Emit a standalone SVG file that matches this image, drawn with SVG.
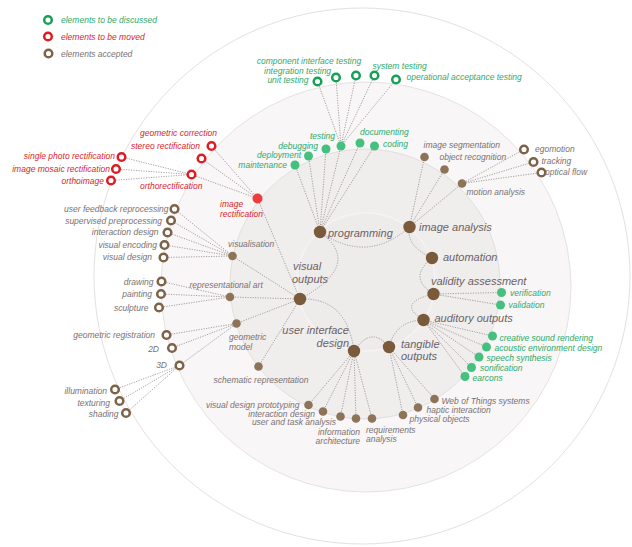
<svg xmlns="http://www.w3.org/2000/svg" width="632" height="547" viewBox="0 0 632 547">
<style>
text{font-family:"Liberation Sans",Arial,sans-serif;font-style:italic;font-size:8.5px;fill:#7a7172}
.e{text-anchor:end}
.tg{fill:#2eaa6b}
.tr{fill:#d8252d}
.tm{font-size:11px;fill:#6c6264}
.c{fill:none;stroke:#9d9595;stroke-width:0.9;stroke-dasharray:1.2 1.3}
.m{fill:#7a5a3a}
.s{fill:#8d7459}
.g{fill:#46c07f}
.rg{fill:#fff;stroke:#16a055;stroke-width:2.5}
.rr{fill:#fff;stroke:#e11b22;stroke-width:2.5}
.rb{fill:#fff;stroke:#7d6248;stroke-width:2.5}
</style>
<rect width="632" height="547" fill="#fff"/>
<g id="background">
<circle cx="362" cy="276" r="268" fill="#fff" stroke="#e4e0e0" stroke-width="1"/>
<circle cx="366" cy="287" r="205" fill="#f8f6f6" stroke="#e6e2e2" stroke-width="1"/>
<circle cx="365" cy="284" r="135" fill="#f0eded" stroke="#e3dfdf" stroke-width="1"/>
<circle cx="366" cy="282" r="69" fill="#eeebeb" stroke="#f5f3f3" stroke-width="1.5"/>
</g>
<g id="legend">
<circle class="rg" cx="48" cy="20" r="3.8"/><text class="tg" x="61" y="23">elements to be discussed</text>
<circle class="rr" cx="48" cy="36.5" r="3.8"/><text class="tr" x="61" y="39.5">elements to be moved</text>
<circle class="rb" cx="48.5" cy="53.5" r="3.8"/><text x="61" y="56.5">elements accepted</text>
</g>
<g id="connectors">
<path class="c" d="M317.5 81.5L341 146M336 77.5L341 146M356 75.5L341 146M374.5 75.5L341 146M396 79.5L341 146"/>
<path class="c" d="M295 165L320 232M308.5 156L320 232M326 149L320 232M341 146L320 232M360 143L320 232M374.5 146L320 232"/>
<path class="c" d="M424.5 157L409.5 227M444.5 169.5L409.5 227M462 183.5L409.5 227"/>
<path class="c" d="M524 149.5L462 183.5M533.5 162L462 183.5M541.5 172.5L462 183.5"/>
<path class="c" d="M501.5 292.5L433.5 294M500.5 305L433.5 294"/>
<path class="c" d="M492.5 336L423.5 320M486.5 347L423.5 320M479 357L423.5 320M471.5 367.5L423.5 320M465 376.5L423.5 320"/>
<path class="c" d="M403 415L389 347M418 407.5L389 347M434.5 399L389 347"/>
<path class="c" d="M308.5 405L354 351M323 411.5L354 351M340.5 416.5L354 351M356 418.5L354 351M372 418.5L354 351"/>
<path class="c" d="M257.5 198.5L300 299M232.5 256L300 299M230 297L300 299M236.5 323.5L300 299M258.5 366.5L300 299"/>
<path class="c" d="M191.5 174.5L257.5 198.5M201.5 158.5L257.5 198.5M211.5 146L257.5 198.5"/>
<path class="c" d="M121.5 157L191.5 174.5M116 169L191.5 174.5M111 180.5L191.5 174.5"/>
<path class="c" d="M174.5 209L232.5 256M171 220.5L232.5 256M167.5 232.5L232.5 256M164.5 245L232.5 256M163.5 257.5L232.5 256"/>
<path class="c" d="M161.5 281.5L230 297M161 294L230 297M159 307.5L230 297"/>
<path class="c" d="M166.5 335L236.5 323.5M172 348L236.5 323.5M179.5 365.5L236.5 323.5"/>
<path class="c" d="M115 389.5L179.5 365.5M119.5 401L179.5 365.5M126 413L179.5 365.5"/>
<path class="c" d="M320 232Q367.25 264.5 409.5 227"/>
<path class="c" d="M409.5 227Q405.25 245.5 432 258"/>
<path class="c" d="M432 258Q407.25 278 433.5 294"/>
<path class="c" d="M433.5 294Q395.5 303 423.5 320"/>
<path class="c" d="M423.5 320Q395.75 320.5 389 347"/>
<path class="c" d="M389 347Q371.5 325 354 351"/>
<path class="c" d="M354 351Q347 297 300 299"/>
<path class="c" d="M300 299Q364 264.5 320 232"/>
</g>
<g id="n-unit-testing"><circle class="rg" cx="317.5" cy="81.5" r="3.8"/><text class="tg e" x="308.5" y="83">unit testing</text></g>
<g id="n-integration-testing"><circle class="rg" cx="336" cy="77.5" r="3.8"/><text class="tg" x="264" y="73.5">integration testing</text></g>
<g id="n-component-interface-testing"><circle class="rg" cx="356" cy="75.5" r="3.8"/><text class="tg" x="256.7" y="63.5">component interface testing</text></g>
<g id="n-system-testing"><circle class="rg" cx="374.5" cy="75.5" r="3.8"/><text class="tg" x="372.5" y="68.5">system testing</text></g>
<g id="n-operational-acceptance-testing"><circle class="rg" cx="396" cy="79.5" r="3.8"/><text class="tg" x="406.5" y="79.5">operational acceptance testing</text></g>
<g id="n-maintenance"><circle class="g" cx="295" cy="165" r="4.5"/><text class="tg e" x="287" y="167.5">maintenance</text></g>
<g id="n-deployment"><circle class="g" cx="308.5" cy="156" r="4.5"/><text class="tg e" x="301" y="157.5">deployment</text></g>
<g id="n-debugging"><circle class="g" cx="326" cy="149" r="4.5"/><text class="tg e" x="318" y="148.5">debugging</text></g>
<g id="n-testing"><circle class="g" cx="341" cy="146" r="4.5"/><text class="tg e" x="335" y="139">testing</text></g>
<g id="n-documenting"><circle class="g" cx="360" cy="143" r="4.5"/><text class="tg" x="360" y="135">documenting</text></g>
<g id="n-coding"><circle class="g" cx="374.5" cy="146" r="4.5"/><text class="tg" x="383" y="146.5">coding</text></g>
<g id="n-image-rectification"><circle cx="257.5" cy="198.5" r="5" fill="#ee3b3b"/><text class="tr" x="220" y="206.5">image</text><text class="tr" x="220" y="216.5">rectification</text></g>
<g id="n-geometric-correction"><circle class="rr" cx="211.5" cy="146" r="3.8"/><text class="tr" x="140" y="136">geometric correction</text></g>
<g id="n-stereo-rectification"><circle class="rr" cx="201.5" cy="158.5" r="3.8"/><text class="tr" x="131" y="149">stereo rectification</text></g>
<g id="n-orthorectification"><circle class="rr" cx="191.5" cy="174.5" r="3.8"/><text class="tr" x="140" y="189">orthorectification</text></g>
<g id="n-single-photo-rectification"><circle class="rr" cx="121.5" cy="157" r="3.8"/><text class="tr e" x="115" y="159">single photo rectification</text></g>
<g id="n-image-mosaic-rectification"><circle class="rr" cx="116" cy="169" r="3.8"/><text class="tr e" x="110" y="171.5">image mosaic rectification</text></g>
<g id="n-orthoimage"><circle class="rr" cx="111" cy="180.5" r="3.8"/><text class="tr e" x="104" y="183.5">orthoimage</text></g>
<g id="n-visualisation"><circle class="s" cx="232.5" cy="256" r="4.3"/><text x="228" y="246.5">visualisation</text></g>
<g id="n-user-feedback-reprocessing"><circle class="rb" cx="174.5" cy="209" r="3.8"/><text class="e" x="168.5" y="212">user feedback reprocessing</text></g>
<g id="n-supervised-preprocessing"><circle class="rb" cx="171" cy="220.5" r="3.8"/><text class="e" x="162" y="223.7">supervised preprocessing</text></g>
<g id="n-interaction-design-l"><circle class="rb" cx="167.5" cy="232.5" r="3.8"/><text class="e" x="158.5" y="234.5">interaction design</text></g>
<g id="n-visual-encoding"><circle class="rb" cx="164.5" cy="245" r="3.8"/><text class="e" x="157" y="248">visual encoding</text></g>
<g id="n-visual-design"><circle class="rb" cx="163.5" cy="257.5" r="3.8"/><text class="e" x="152" y="260">visual design</text></g>
<g id="n-representational-art"><circle class="s" cx="230" cy="297" r="4.3"/><text x="189.5" y="287.5">representational art</text></g>
<g id="n-drawing"><circle class="rb" cx="161.5" cy="281.5" r="3.8"/><text class="e" x="153.5" y="285">drawing</text></g>
<g id="n-painting"><circle class="rb" cx="161" cy="294" r="3.8"/><text class="e" x="152" y="297">painting</text></g>
<g id="n-sculpture"><circle class="rb" cx="159" cy="307.5" r="3.8"/><text class="e" x="148.5" y="310.5">sculpture</text></g>
<g id="n-geometric-model"><circle class="s" cx="236.5" cy="323.5" r="4.3"/><text x="229" y="340">geometric</text><text x="229" y="350">model</text></g>
<g id="n-geometric-registration"><circle class="rb" cx="166.5" cy="335" r="3.8"/><text class="e" x="155" y="338">geometric registration</text></g>
<g id="n-2d"><circle class="rb" cx="172" cy="348" r="3.8"/><text class="e" x="159" y="351.5">2D</text></g>
<g id="n-3d"><circle class="rb" cx="179.5" cy="365.5" r="3.8"/><text class="e" x="167" y="368">3D</text></g>
<g id="n-illumination"><circle class="rb" cx="115" cy="389.5" r="3.8"/><text class="e" x="107" y="394">illumination</text></g>
<g id="n-texturing"><circle class="rb" cx="119.5" cy="401" r="3.8"/><text class="e" x="110" y="405.5">texturing</text></g>
<g id="n-shading"><circle class="rb" cx="126" cy="413" r="3.8"/><text class="e" x="118.5" y="417">shading</text></g>
<g id="n-schematic-representation"><circle class="s" cx="258.5" cy="366.5" r="4.3"/><text x="213.5" y="383">schematic representation</text></g>
<g id="n-image-segmentation"><circle class="s" cx="424.5" cy="157" r="4.3"/><text x="423.5" y="147.5">image segmentation</text></g>
<g id="n-object-recognition"><circle class="s" cx="444.5" cy="169.5" r="4.3"/><text x="439.5" y="160">object recognition</text></g>
<g id="n-motion-analysis"><circle class="s" cx="462" cy="183.5" r="4.3"/><text x="466.5" y="195">motion analysis</text></g>
<g id="n-egomotion"><circle class="rb" cx="524" cy="149.5" r="3.8"/><text x="535" y="151.5">egomotion</text></g>
<g id="n-tracking"><circle class="rb" cx="533.5" cy="162" r="3.8"/><text x="541.5" y="164">tracking</text></g>
<g id="n-optical-flow"><circle class="rb" cx="541.5" cy="172.5" r="3.8"/><text x="545" y="175">optical flow</text></g>
<g id="n-verification"><circle class="g" cx="501.5" cy="292.5" r="4.5"/><text class="tg" x="510" y="295.5">verification</text></g>
<g id="n-validation"><circle class="g" cx="500.5" cy="305" r="4.5"/><text class="tg" x="508.5" y="308">validation</text></g>
<g id="n-creative-sound-rendering"><circle class="g" cx="492.5" cy="336" r="4.5"/><text class="tg" x="499.5" y="340.5">creative sound rendering</text></g>
<g id="n-acoustic-environment-design"><circle class="g" cx="486.5" cy="347" r="4.5"/><text class="tg" x="494.5" y="351">acoustic environment design</text></g>
<g id="n-speech-synthesis"><circle class="g" cx="479" cy="357" r="4.5"/><text class="tg" x="486.5" y="361">speech synthesis</text></g>
<g id="n-sonification"><circle class="g" cx="471.5" cy="367.5" r="4.5"/><text class="tg" x="480" y="371">sonification</text></g>
<g id="n-earcons"><circle class="g" cx="465" cy="376.5" r="4.5"/><text class="tg" x="472.5" y="381">earcons</text></g>
<g id="n-visual-design-prototyping"><circle class="s" cx="308.5" cy="405" r="4.3"/><text class="e" x="299.5" y="407.5">visual design prototyping</text></g>
<g id="n-interaction-design-b"><circle class="s" cx="323" cy="411.5" r="4.3"/><text class="e" x="315" y="416.5">interaction design</text></g>
<g id="n-user-and-task-analysis"><circle class="s" cx="340.5" cy="416.5" r="4.3"/><text class="e" x="336" y="425.3">user and task analysis</text></g>
<g id="n-information-architecture"><circle class="s" cx="356" cy="418.5" r="4.3"/><text class="e" x="360" y="434.5">information</text><text class="e" x="360" y="443.5">architecture</text></g>
<g id="n-requirements-analysis"><circle class="s" cx="372" cy="418.5" r="4.3"/><text x="366" y="432.5">requirements</text><text x="366" y="441.5">analysis</text></g>
<g id="n-physical-objects"><circle class="s" cx="403" cy="415" r="4.3"/><text x="409.5" y="422">physical objects</text></g>
<g id="n-haptic-interaction"><circle class="s" cx="418" cy="407.5" r="4.3"/><text x="426.5" y="413">haptic interaction</text></g>
<g id="n-web-of-things-systems"><circle class="s" cx="434.5" cy="399" r="4.3"/><text x="441.5" y="403.5">Web of Things systems</text></g>
<g id="n-programming"><circle class="m" cx="320" cy="232" r="6.2"/><text class="tm" x="328" y="237">programming</text></g>
<g id="n-image-analysis"><circle class="m" cx="409.5" cy="227" r="6.2"/><text class="tm" x="419" y="231">image analysis</text></g>
<g id="n-automation"><circle class="m" cx="432" cy="258" r="6.2"/><text class="tm" x="443" y="260.5">automation</text></g>
<g id="n-validity-assessment"><circle class="m" cx="433.5" cy="294" r="6.2"/><text class="tm" x="431" y="285">validity assessment</text></g>
<g id="n-auditory-outputs"><circle class="m" cx="423.5" cy="320" r="6.2"/><text class="tm" x="434.5" y="321.5">auditory outputs</text></g>
<g id="n-tangible-outputs"><circle class="m" cx="389" cy="347" r="6.2"/><text class="tm" x="401" y="347.5">tangible</text><text class="tm" x="401" y="360">outputs</text></g>
<g id="n-user-interface-design"><circle class="m" cx="354" cy="351" r="6.2"/><text class="tm e" x="349" y="334">user interface</text><text class="tm e" x="349" y="347">design</text></g>
<g id="n-visual-outputs"><circle class="m" cx="300" cy="299" r="6.2"/><text class="tm" x="293" y="270">visual</text><text class="tm" x="292" y="283">outputs</text></g>
</svg>
